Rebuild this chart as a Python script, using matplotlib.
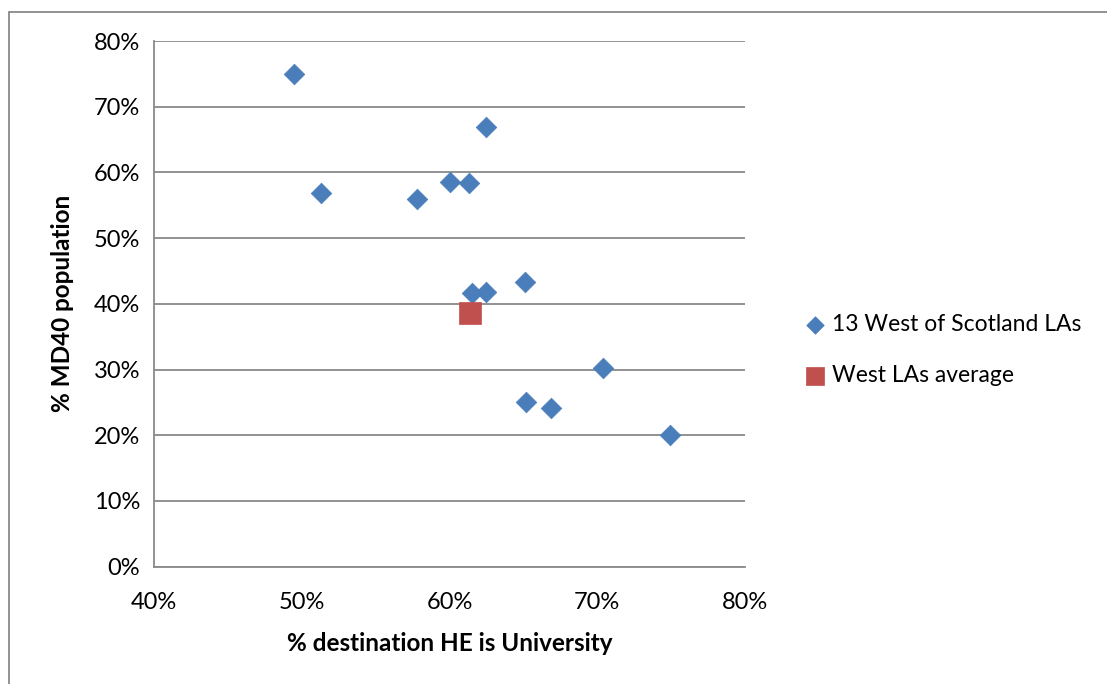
import matplotlib
matplotlib.use("Agg")
import matplotlib.pyplot as plt
from matplotlib.patches import Rectangle
from matplotlib.ticker import PercentFormatter, MultipleLocator

# Data (percent values)
la_x = [49.5, 51.3, 57.8, 60.0, 61.3, 62.5, 61.5, 62.5, 65.1, 70.4, 65.2, 66.9, 74.9]
la_y = [75.0, 56.8, 55.9, 58.5, 58.4, 66.9, 41.6, 41.8, 43.3, 30.3, 25.0, 24.2, 20.1]
avg_x = [61.4]
avg_y = [38.6]
series_labels = ["13 West of Scotland LAs", "West LAs average"]
x_label = "% destination HE is University"
y_label = "% MD40 population"

plt.rcParams['font.family'] = ['Lato', 'DejaVu Sans']

fig = plt.figure(figsize=(11.07, 6.84), dpi=100)
ax = fig.add_axes([154/1107, 1-566.6/684, (745-154)/1107, (566.6-41)/684])

ax.scatter(la_x, la_y, marker='D', s=110, color='#4a7ebb', edgecolors='#4a7ebb',
           linewidths=0.5, zorder=3, label=series_labels[0])
ax.scatter(avg_x, avg_y, marker='s', s=230, color='#c0504d', edgecolors='#c0504d',
           linewidths=0.5, zorder=3, label=series_labels[1])

ax.set_xlim(40, 80)
ax.set_ylim(0, 80)
ax.xaxis.set_major_locator(MultipleLocator(10))
ax.yaxis.set_major_locator(MultipleLocator(10))
ax.xaxis.set_major_formatter(PercentFormatter(decimals=0))
ax.yaxis.set_major_formatter(PercentFormatter(decimals=0))

ax.grid(axis='y', color='#898989', linewidth=1.3)
ax.set_axisbelow(True)
for s in ['top', 'right']:
    ax.spines[s].set_visible(False)
for s in ['left', 'bottom']:
    ax.spines[s].set_color('#898989')
    ax.spines[s].set_linewidth(1.3)
ax.tick_params(axis='both', length=0, labelsize=17, colors='#000000')
ax.tick_params(axis='y', pad=10)
ax.tick_params(axis='x', pad=18)

ax.set_xlabel(x_label, fontsize=17.5, fontweight='bold', labelpad=14)
ax.set_ylabel(y_label, fontsize=17.5, fontweight='bold', labelpad=14)

leg = fig.legend(loc='center left', bbox_to_anchor=(796/1107, 1-350/684), frameon=False,
                 fontsize=16.5, handletextpad=0.25, labelspacing=1.3, handlelength=0.9,
                 markerscale=0.85, borderaxespad=0)

# outer chart border (only top and left visible)
fig.add_artist(Rectangle((9/1107, -0.1), 1.2, 1.1 - 12/684, transform=fig.transFigure,
                         fill=False, edgecolor='#898989', linewidth=1.3))

fig.savefig('out.png', dpi=100, facecolor='white')
